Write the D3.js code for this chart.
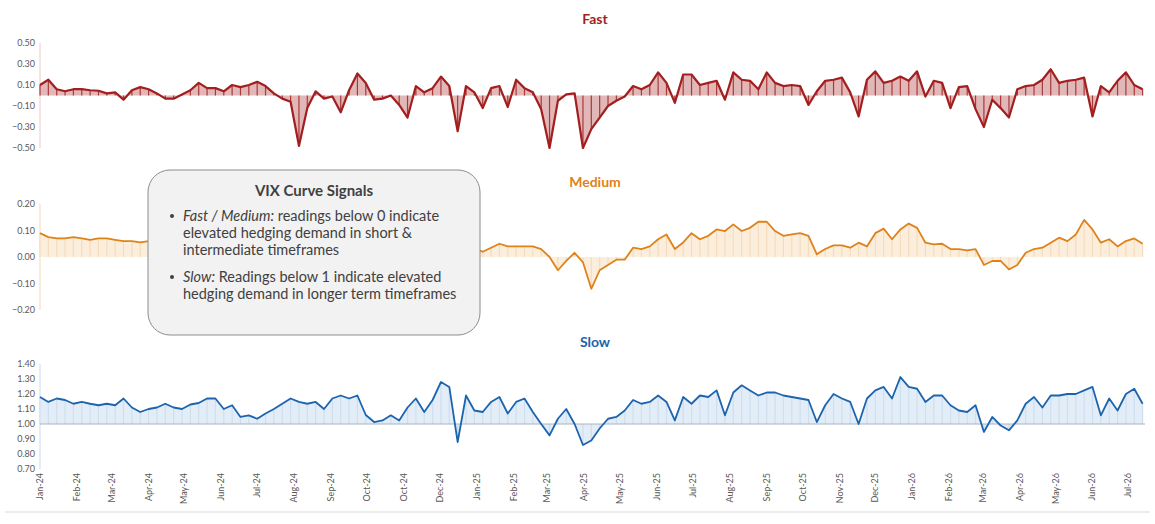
<!DOCTYPE html>
<html><head><meta charset="utf-8">
<script src="https://cdn.jsdelivr.net/npm/d3@7"></script>
<style>body{margin:0;background:#fff}svg{display:block}text{font-family:Lato,"Open Sans",sans-serif}</style>
</head><body><svg id="c" width="1155" height="524"></svg>
<script>
const fastValues=[0.10,0.15,0.06,0.04,0.06,0.06,0.05,0.045,0.02,0.03,-0.04,0.05,0.08,0.06,0.02,-0.03,-0.03,0.01,0.05,0.12,0.07,0.07,0.04,0.10,0.08,0.10,0.13,0.09,0.02,-0.03,-0.06,-0.48,-0.12,0.04,-0.03,-0.01,-0.16,0.05,0.21,0.12,-0.04,-0.03,0.0,-0.09,-0.21,0.09,0.03,0.07,0.18,0.09,-0.34,0.09,0.03,-0.12,0.07,0.09,-0.11,0.15,0.07,0.03,-0.13,-0.50,-0.05,0.01,0.02,-0.50,-0.32,-0.21,-0.10,-0.05,-0.01,0.09,0.06,0.10,0.22,0.12,-0.07,0.20,0.20,0.10,0.12,0.14,-0.04,0.22,0.15,0.14,0.06,0.22,0.12,0.09,0.10,0.09,-0.09,0.04,0.14,0.15,0.17,0.03,-0.20,0.15,0.23,0.12,0.14,0.18,0.14,0.23,-0.01,0.14,0.12,-0.12,0.08,0.09,-0.13,-0.30,-0.04,-0.12,-0.21,0.06,0.09,0.10,0.15,0.25,0.12,0.14,0.15,0.17,-0.20,0.09,0.03,0.14,0.22,0.10,0.06];
const mediumValues=[0.09,0.075,0.07,0.07,0.075,0.07,0.065,0.07,0.07,0.065,0.06,0.06,0.055,0.06,0.07,0.08,0.07,0.06,0.05,0.06,0.07,0.08,0.09,0.08,0.07,0.06,0.05,0.04,0.03,0.01,-0.02,0.0,0.02,0.03,0.02,0.01,0.03,0.05,0.07,0.08,0.07,0.06,0.05,0.04,0.05,0.06,0.08,0.07,0.05,0.04,0.03,0.03,0.03,0.02,0.035,0.05,0.04,0.04,0.04,0.04,0.03,0.0,-0.05,-0.015,0.016,-0.02,-0.12,-0.05,-0.03,-0.01,-0.01,0.035,0.03,0.04,0.067,0.085,0.03,0.055,0.09,0.067,0.08,0.104,0.098,0.123,0.098,0.11,0.133,0.133,0.098,0.08,0.085,0.09,0.08,0.01,0.03,0.044,0.044,0.035,0.054,0.04,0.09,0.107,0.067,0.104,0.126,0.11,0.054,0.048,0.05,0.03,0.03,0.025,0.03,-0.03,-0.015,-0.015,-0.047,-0.03,0.016,0.03,0.035,0.054,0.073,0.06,0.085,0.14,0.104,0.054,0.067,0.04,0.06,0.07,0.05];
const slowValues=[1.18,1.147,1.17,1.16,1.135,1.147,1.135,1.125,1.135,1.125,1.17,1.11,1.08,1.10,1.11,1.135,1.11,1.10,1.13,1.14,1.17,1.17,1.10,1.125,1.047,1.058,1.035,1.07,1.10,1.135,1.17,1.147,1.135,1.147,1.10,1.17,1.19,1.17,1.19,1.06,1.013,1.024,1.058,1.024,1.11,1.17,1.08,1.16,1.28,1.247,0.88,1.19,1.09,1.08,1.147,1.18,1.07,1.147,1.17,1.08,1.0,0.924,1.035,1.10,1.0,0.86,0.89,0.97,1.035,1.047,1.09,1.16,1.135,1.147,1.19,1.147,1.024,1.18,1.135,1.19,1.18,1.224,1.058,1.21,1.258,1.224,1.19,1.21,1.21,1.19,1.18,1.17,1.16,1.013,1.125,1.20,1.17,1.147,1.0,1.17,1.224,1.247,1.17,1.313,1.247,1.235,1.147,1.19,1.19,1.125,1.09,1.08,1.125,0.947,1.047,0.99,0.958,1.024,1.135,1.18,1.11,1.19,1.19,1.20,1.20,1.224,1.247,1.058,1.17,1.09,1.20,1.235,1.135];
const tickLabels=["Jan-24","Feb-24","Mar-24","Apr-24","May-24","Jun-24","Jul-24","Aug-24","Sep-24","Oct-24","Oct-24","Dec-24","Jan-25","Feb-25","Mar-25","Apr-25","May-25","Jun-25","Jul-25","Aug-25","Sep-25","Oct-25","Nov-25","Dec-25","Jan-26","Feb-26","Mar-26","Apr-26","May-26","Jun-26","Jul-26"];
const fastTicks=[0.5,0.3,0.1,-0.1,-0.3,-0.5];
const mediumTicks=[0.2,0.1,0,-0.1,-0.2];
const slowTicks=[1.4,1.3,1.2,1.1,1.0,0.9,0.8,0.7];

const svg=d3.select("#c");
const start=new Date(2024,0,1), end=new Date(2024,0,1+926);
const dates=fastValues.map((_,i)=>d3.timeWeek.offset(start,i));
const x=d3.scaleTime().domain([start,end]).range([40,1145]);
const months=d3.timeMonth.range(start,new Date(2026,7,1));

function panel(vals,domain,range,base,ticks,cfg){
  const y=d3.scaleLinear().domain(domain).range(range);
  const g=svg.append("g");
  g.append("text").attr("x",595).attr("y",cfg.ty).attr("text-anchor","middle")
    .attr("font-weight","bold").attr("font-size",14).attr("fill",cfg.line).text(cfg.title);
  g.append("line").attr("x1",40).attr("x2",40).attr("y1",range[1]).attr("y2",range[0]).attr("stroke",cfg.axis);
  const ax=d3.axisLeft(y).tickValues(ticks).tickSize(0).tickPadding(6).tickFormat(d3.format(".2f"));
  const a=g.append("g").attr("transform","translate(40,0)").call(ax);
  a.select(".domain").remove();
  a.selectAll("text").attr("font-size",9).attr("fill","#595959").attr("x",-5);
  const cl=v=>Math.max(domain[0],Math.min(domain[1],v));
  g.append("path").datum(vals).attr("fill",cfg.fill).attr("opacity",cfg.fo)
    .attr("d",d3.area().x((d,i)=>x(dates[i])).y0(y(base)).y1(d=>y(cl(d))));
  g.selectAll(".b").data(vals).join("line").attr("x1",(d,i)=>x(dates[i])).attr("x2",(d,i)=>x(dates[i]))
    .attr("y1",y(base)).attr("y2",d=>y(cl(d))).attr("stroke",cfg.bar).attr("stroke-width",1.2);
  if(cfg.baseLine) g.append("line").attr("x1",40).attr("x2",1145).attr("y1",y(base)).attr("y2",y(base)).attr("stroke",cfg.baseLine);
  g.append("path").datum(vals).attr("fill","none").attr("stroke",cfg.line).attr("stroke-width",cfg.lw).attr("stroke-linejoin","round")
    .attr("d",d3.line().x((d,i)=>x(dates[i])).y(d=>y(cl(d))));
}
panel(fastValues,[-0.5,0.5],[148,43],0,fastTicks,{title:"Fast",ty:24,line:"#a31f1f",bar:"#a83a3a",fill:"#d9a5a5",fo:0.8,axis:"#f0c8c8",lw:2.2});
panel(mediumValues,[-0.2,0.2],[310,204],0,mediumTicks,{title:"Medium",ty:187,line:"#e0821a",bar:"#f6dcbc",fill:"#fbeedd",fo:1,axis:"#f6d9b5",lw:1.8});
panel(slowValues,[0.7,1.4],[469,364],1.0,slowTicks,{title:"Slow",ty:347,line:"#1c64ae",bar:"#cddff0",fill:"#e3edf7",fo:1,axis:"#c8dbef",lw:1.8,baseLine:"#a9b4c2"});

svg.selectAll(".m").data(months).join("text")
  .attr("transform",d=>`translate(${x(d)+3},473) rotate(-90)`).attr("text-anchor","end")
  .attr("font-size",9).attr("fill","#595959").text((d,i)=>tickLabels[i]);
svg.append("line").attr("x1",5).attr("x2",1150).attr("y1",512).attr("y2",512).attr("stroke","#d9d9d9");

const b=svg.append("g");
b.append("rect").attr("x",148).attr("y",170).attr("width",332).attr("height",165).attr("rx",22)
  .attr("fill","#f2f2f2").attr("stroke","#8c8c8c");
b.append("text").attr("x",314).attr("y",196).attr("text-anchor","middle").attr("font-weight","bold")
  .attr("font-size",15).attr("fill","#404040").text("VIX Curve Signals");
const fs=14.5;
const bullet=yy=>b.append("circle").attr("cx",172).attr("cy",yy-5).attr("r",2).attr("fill","#404040");
bullet(221);bullet(282);
b.append("text").attr("x",183).attr("y",221).attr("font-size",fs).attr("fill","#404040")
  .call(t=>{t.append("tspan").attr("font-style","italic").text("Fast / Medium:");t.append("tspan").text(" readings below 0 indicate");});
b.append("text").attr("x",183).attr("y",238).attr("font-size",fs).attr("fill","#404040").text("elevated hedging demand in short &");
b.append("text").attr("x",183).attr("y",255).attr("font-size",fs).attr("fill","#404040").text("intermediate timeframes");
b.append("text").attr("x",183).attr("y",282).attr("font-size",fs).attr("fill","#404040")
  .call(t=>{t.append("tspan").attr("font-style","italic").text("Slow:");t.append("tspan").text(" Readings below 1 indicate elevated");});
b.append("text").attr("x",183).attr("y",299).attr("font-size",fs).attr("fill","#404040").text("hedging demand in longer term timeframes");
</script></body></html>
